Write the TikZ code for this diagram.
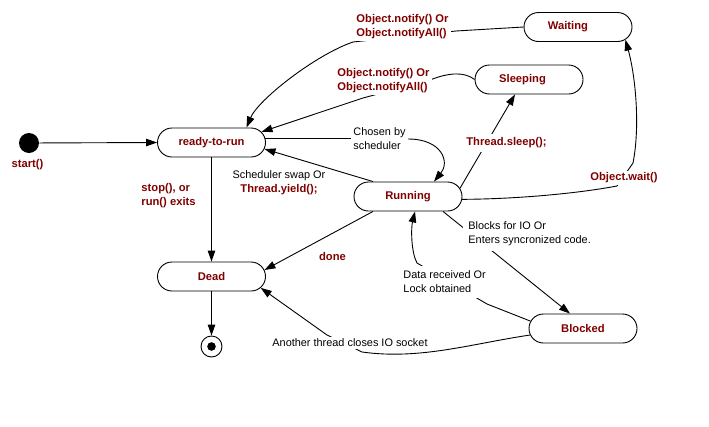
\documentclass[tikz,border=0pt]{standalone}
\usepackage{fontspec}
\setmainfont{Liberation Sans}
\usetikzlibrary{arrows.meta,shapes.misc,calc}
\definecolor{maroon}{RGB}{128,0,0}
\begin{document}
\begin{tikzpicture}[x=1pt,y=-1pt,line width=0.9pt,
  >={Triangle[length=11pt,width=7.5pt]},
  statebox/.style={rounded rectangle, draw, fill=white, minimum width=108pt, minimum height=29pt, inner sep=0pt, font=\fontsize{11.2}{14}\selectfont\bfseries, text=maroon},
  redlbl/.style={font=\fontsize{11.2}{14}\selectfont\bfseries, text=maroon, inner sep=2pt},
  blklbl/.style={font=\fontsize{10.9}{14}\selectfont, text=black, inner sep=2pt},
  cover/.style={fill=white}]
\useasboundingbox (0,0) rectangle (709,426);
% states
\node[statebox] (rtr) at (211.5,142.5) {ready-to-run};
\node[statebox] (dead) at (211.5,276.5) {Dead};
\node[statebox] (run) at (408,196.5) {Running};
\node[statebox] (wait) at (578,27) {Waiting\hspace*{20pt}};
\node[statebox] (sleep) at (529,79.5) {Sleeping\hspace*{13pt}};
\node[statebox] (blk) at (583,328.5) {Blocked};
\node[circle, fill=black, minimum size=20pt, inner sep=0pt] (start) at (29,143) {};
\node[circle, draw, minimum size=21pt, inner sep=0pt] (end) at (211.5,346.5) {};
\fill (end.center) circle (4.3pt);
\node[blklbl, align=left, anchor=west] (lchosen) at (351,139) {Chosen by\\scheduler};
% waypoints
\coordinate (w1) at (456,31);
\coordinate (w2) at (353,42);
\coordinate (s1) at (430,80);
\coordinate (s2) at (363,98);
\coordinate (o1) at (617,186);
\coordinate (o2) at (633,163);
\coordinate (d1) at (487,304);
\coordinate (d2) at (417,263);
\coordinate (a1) at (362,352);
\coordinate (a2) at (327,335);
% connectors
\draw[->] (start) -- (rtr.west);
\draw[->] (wait.west) -- (w1) -- (w2) .. controls (315,55) and (258,100) .. ($(rtr.north)+(35,0)$);
\draw[->] (sleep.west) .. controls (465,72) and (450,72) .. (s1) -- (s2) -- (rtr.12);
\draw[->] ($(run.north)+(-35,0)$) -- (rtr.-7);
\draw (rtr.4) -- (rtr.4 -| lchosen.west);
\draw[->] (lchosen.east) .. controls (442,139) and (450,162) .. ($(run.north)+(26,0)$);
\draw[->] (run.9) -- ($(sleep.south)+(-14,0)$);
\draw[->] (run.-3) .. controls (520,199) and (580,193) .. (o1) -- (o2) .. controls (640,128) and (636,78) .. (wait.-15);
\draw[->] ($(run.south)+(35,0)$) -- ($(blk.north)+(-13,0)$);
\draw[->] (blk.172) -- (d1) -- (d2) .. controls (411,252) and (411,228) .. ($(run.south)+(7,0)$);
\draw[->] ($(run.south)+(-35,0)$) -- (dead.7);
\draw[->] (rtr.south) -- (dead.north);
\draw[->] (dead.south) -- (end.north);
\draw[->] (blk.187) .. controls (470,344) and (420,360) .. (a1) -- (a2) -- (dead.-13);
% labels
\node[redlbl] (lstart) at (27.5,165) {start()};
\node[redlbl, cover, align=left, anchor=west] (lw) at (354,27) {Object.notify() Or\\Object.notifyAll()};
\node[redlbl, cover, align=left, anchor=west] (ls) at (335,81) {Object.notify() Or\\Object.notifyAll()};
\node[blklbl, align=center] (lsched) at (279,182.5) {Scheduler swap Or\\{\fontsize{11.2}{14}\selectfont\bfseries\color{maroon}Thread.yield();}};
\node[redlbl, align=left, anchor=west] (lstop) at (139,196) {stop(), or\\run() exits};
\node[redlbl, cover, inner sep=4pt] (lsleep) at (506.5,143) {Thread.sleep();};
\node[redlbl, cover] (lwo) at (624,178) {Object.wait()};
\node[redlbl] (ldone) at (332.5,256) {done};
\node[blklbl, cover, align=left, anchor=west, inner sep=5pt] (lblocks) at (463,234) {Blocks for IO Or\\Enters syncronized code.};
\node[blklbl, cover, align=left, anchor=west, inner sep=5pt] (ldata) at (398,282) {Data received Or\\Lock obtained};
\node[blklbl, cover, anchor=west] (lanother) at (270,343) {Another thread closes IO socket};
\end{tikzpicture}
\end{document}
